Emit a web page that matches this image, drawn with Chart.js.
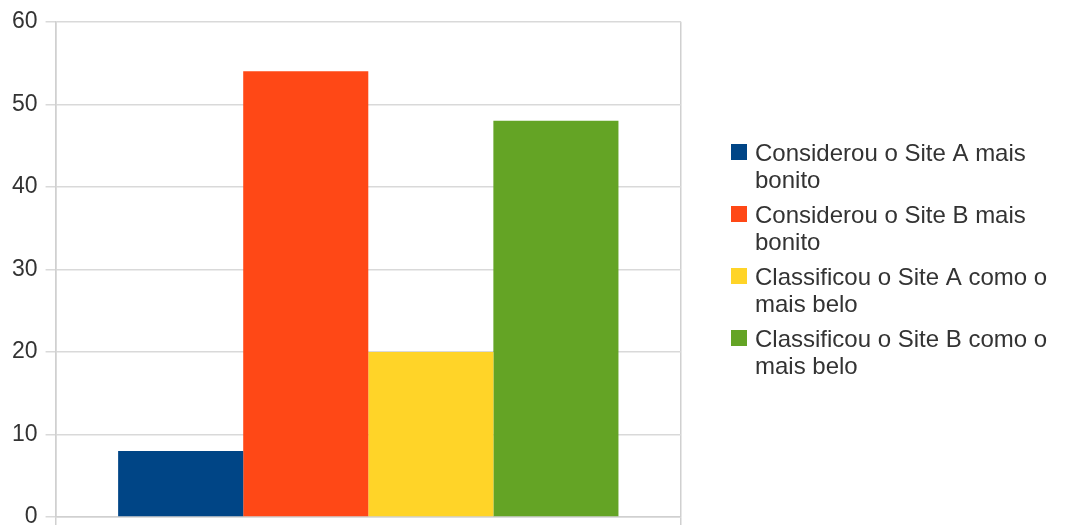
<!DOCTYPE html>
<html>
<head>
<meta charset="utf-8">
<script src="https://cdn.jsdelivr.net/npm/chart.js@4"></script>
<style>
  html, body { margin: 0; padding: 0; background: #fff; }
  #wrap { width: 1067px; height: 525px; }
</style>
</head>
<body>
<div id="wrap"><canvas id="chartOne"></canvas></div>
<script>
const categories = [""];
const seriesNames = [
    ["Considerou o Site A mais", "bonito"],
    ["Considerou o Site B mais", "bonito"],
    ["Classificou o Site A como o", "mais belo"],
    ["Classificou o Site B como o", "mais belo"]
];
const seriesValues = [[8], [54], [20], [48]];
const seriesColors = ['#004586', '#ff4816', '#ffd428', '#64a425'];
const yTicks = [0, 10, 20, 30, 40, 50, 60];

const FONT = "'Liberation Sans', Arial, sans-serif";

// legend on the right with wrapped labels
const sideLegend = {
    id: 'sideLegend',
    afterDraw(chart) {
        const ctx = chart.ctx;
        const lineH = 27;
        const gap = 8;
        const entryH = seriesNames.map(n => n.length * lineH);
        const total = entryH.reduce((a, b) => a + b, 0) + gap * (seriesNames.length - 1);
        let y = chart.height / 2 - total / 2 - 2;
        const x = chart.chartArea.right + 50;
        ctx.save();
        ctx.font = '24px ' + FONT;
        ctx.textBaseline = 'middle';
        seriesNames.forEach((lines, i) => {
            ctx.fillStyle = seriesColors[i];
            ctx.fillRect(x, y + lineH / 2 - 10, 16, 16);
            ctx.fillStyle = '#333333';
            lines.forEach((t, j) => {
                ctx.fillText(t, x + 24, y + lineH / 2 + j * lineH);
            });
            y += entryH[i] + gap;
        });
        ctx.restore();
    }
};

const chartOne = document.getElementById("chartOne");
let mainChart = new Chart(chartOne, {
    type: 'bar',
    data: {
        labels: categories,
        datasets: seriesNames.map((n, i) => ({
            label: n.join(' '),
            data: seriesValues[i],
            backgroundColor: seriesColors[i],
            borderWidth: 0,
            categoryPercentage: 0.8,
            barPercentage: 1.0
        }))
    },
    options: {
        responsive: true,
        maintainAspectRatio: false,
        animation: false,
        layout: { padding: { left: 4, right: 386, top: 1, bottom: 0 } },
        plugins: {
            legend: { display: false },
            tooltip: { enabled: false }
        },
        scales: {
            x: {
                ticks: { display: false },
                grid: { color: '#d0d0d0', lineWidth: 1.5, tickLength: 8, offset: true },
                border: { display: true, color: '#d0d0d0', width: 1.5 }
            },
            y: {
                min: 0,
                max: 60,
                afterBuildTicks: axis => { axis.ticks = yTicks.map(v => ({ value: v })); },
                afterFit: axis => { axis.paddingBottom = 0; },
                ticks: {
                    color: '#333333',
                    font: { family: FONT, size: 23 },
                    padding: 8
                },
                grid: { color: '#d9d9d9', lineWidth: 1.5, tickLength: 10 },
                border: { display: true, color: '#d0d0d0', width: 1.5 }
            }
        }
    },
    plugins: [sideLegend]
});
</script>
</body>
</html>
